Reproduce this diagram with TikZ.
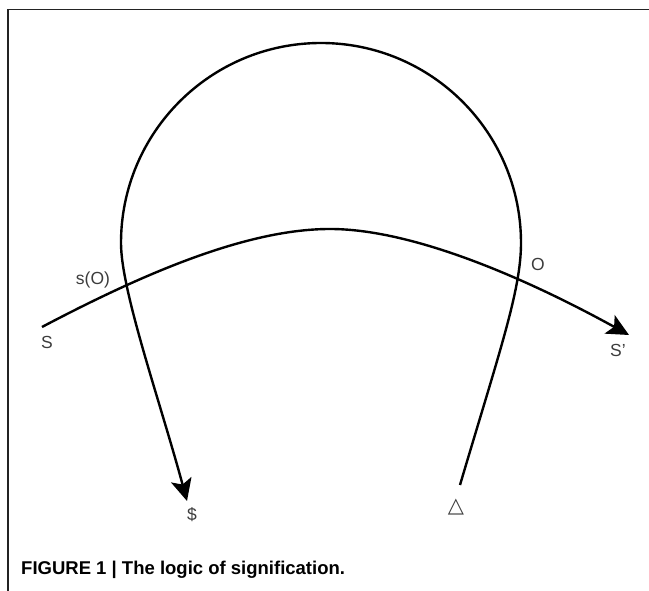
\documentclass[tikz,border=0pt]{standalone}
\usepackage{fontspec}
\setmainfont{Liberation Sans}
\newfontfamily\symfont{DejaVu Sans}
\usepackage{tikz}
\usetikzlibrary{arrows.meta,positioning}
\definecolor{LabelGray}{RGB}{60,60,60}
\definecolor{FrameGray}{RGB}{35,35,35}
\newcommand{\labelsize}{\fontsize{17.5}{20}\selectfont}

\begin{document}
\begin{tikzpicture}[x=1pt,y=1pt,
    curve/.style={line width=2.4pt,black},
    tiparrow/.style={-{Stealth[length=22pt,width=21pt,inset=5pt]}},
    lbl/.style={text=LabelGray,font=\labelsize,inner sep=0pt}]
  \useasboundingbox (0,0) rectangle (649,591);
  % open frame, top and left
  \draw[FrameGray,line width=1.4pt] (8,0) -- (8,581.5) -- (649,581.5);
  % end points
  \coordinate (sStart) at (42,264);
  \coordinate (sTop) at (330,362);
  \coordinate (sEnd) at (629,256);
  \coordinate (loopStart) at (460,106);
  \coordinate (loopRight) at (521,348);
  \coordinate (loopEnd) at (187,90);
  % signifying chain
  \draw[curve,tiparrow] (sStart) .. controls (150,321) and (250,362) .. (sTop)
    .. controls (410,362) and (520,316) .. (sEnd);
  % the loop
  \draw[curve,tiparrow] (loopStart) .. controls (500,241) and (521,301) .. (loopRight)
    arc[start angle=0,end angle=180,radius=200]
    .. controls (121,300) and (160,190) .. (loopEnd);
  % labels
  \node[lbl] (sO) at (93,311) {s(O)};
  \node[lbl] (S) at (47,249) {S};
  \node[lbl] (O) at (538,327) {O};
  \node[lbl] (Sp) at (618,241) {S'};
  \node[lbl] (barS) at (192,76) {\$};
  \node[lbl,font=\symfont\fontsize{21}{24}\selectfont] (delta) at (456,84) {△};
  % caption
  \node[anchor=base west,inner sep=0pt,font=\bfseries\fontsize{18.5}{22}\selectfont] (caption)
    at (21,16) {FIGURE 1 | The logic of signification.};
\end{tikzpicture}
\end{document}
